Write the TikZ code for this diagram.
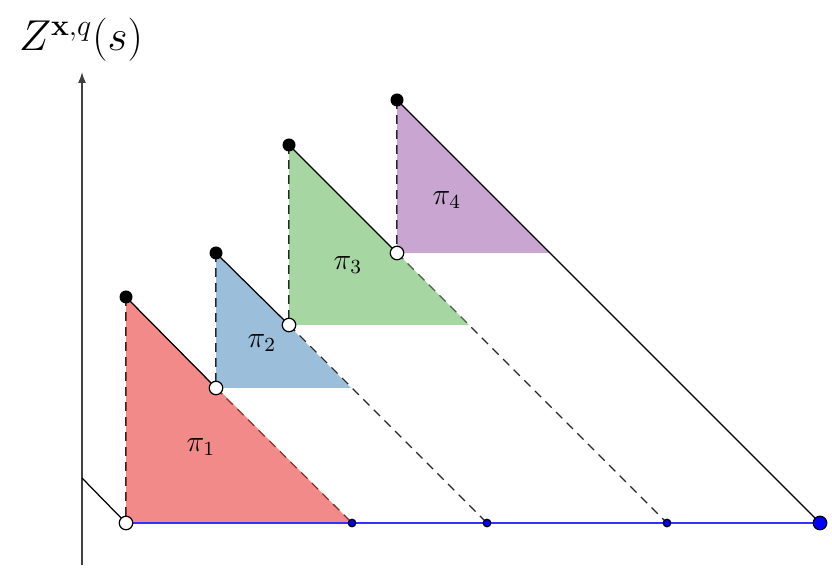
\documentclass[tikz,border=0pt]{standalone}
\usetikzlibrary{arrows.meta}
\definecolor{pione}{RGB}{233,60,60}
\definecolor{pitwo}{RGB}{88,147,195}
\definecolor{pithree}{RGB}{107,188,102}
\definecolor{pifour}{RGB}{165,107,178}
\begin{document}
\begin{tikzpicture}[x=0.4pt,y=0.4pt,line width=0.5pt,
    jumptop/.style={circle,fill=black,inner sep=0pt,minimum size=5.2pt},
    jumpbot/.style={circle,draw=black,fill=white,inner sep=0pt,minimum size=5.4pt},
    hit/.style={circle,draw=black,fill=blue,inner sep=0pt,minimum size=3pt},
    bighit/.style={circle,draw=black,fill=blue,inner sep=0pt,minimum size=5.4pt},
    guide/.style={dash pattern=on 3.5pt off 2.5pt,black!85},
    piece/.style={fill opacity=0.6}]
\useasboundingbox (0,0) rectangle (832,573);
% axis
\coordinate (ax0) at (82,8);
\coordinate (ax1) at (82,501);
\coordinate (in0) at (82,95);
\draw[black!75,line width=0.6pt,-{Latex[length=4.4pt,width=3.2pt]}] (ax0) -- (ax1);
\node (zlab) at (81,533) {\LARGE $Z^{\mathbf{x},q}(s)$};
% path points
\coordinate (s0) at (126,50);
\coordinate (a1) at (126,276);
\coordinate (o1) at (216,185);
\coordinate (b1) at (352,50);
\coordinate (a2) at (216,320);
\coordinate (o2) at (289,248);
\coordinate (b2) at (487,50);
\coordinate (a3) at (289,428);
\coordinate (o3) at (397,320);
\coordinate (b3) at (667,50);
\coordinate (a4) at (397,473);
\coordinate (b4) at (820,50);
% triangle corners
\coordinate (c2) at (351,185);
\coordinate (c3) at (469,248);
\coordinate (c4) at (550,320);
% dashed guides
\draw[guide] (a1) -- (s0);
\draw[guide] (a2) -- (o1);
\draw[guide] (a3) -- (o2);
\draw[guide] (a4) -- (o3);
\draw[guide] (o1) -- (b1);
\draw[guide] (o2) -- (b2);
\draw[guide] (o3) -- (b3);
% pieces
\fill[pione,piece] (a1) -- (s0) -- (b1) -- cycle;
\fill[pitwo,piece] (a2) -- (o1) -- (c2) -- cycle;
\fill[pithree,piece] (a3) -- (o2) -- (c3) -- cycle;
\fill[pifour,piece] (a4) -- (o3) -- (c4) -- cycle;
\node (p1) at (201,126) {\large $\pi_1$};
\node (p2) at (262,230) {\large $\pi_2$};
\node (p3) at (348,308) {\large $\pi_3$};
\node (p4) at (447,373) {\large $\pi_4$};
% solid path
\draw (in0) -- (s0);
\draw (a1) -- (o1);
\draw (a2) -- (o2);
\draw (a3) -- (o3);
\draw (a4) -- (b4);
\draw[blue!80] (s0) -- (b4);
% dots
\node[jumpbot] (n0) at (s0) {};
\node[jumptop] (n1) at (a1) {};
\node[jumpbot] (m1) at (o1) {};
\node[jumptop] (n2) at (a2) {};
\node[jumpbot] (m2) at (o2) {};
\node[jumptop] (n3) at (a3) {};
\node[jumpbot] (m3) at (o3) {};
\node[jumptop] (n4) at (a4) {};
\node[hit] (h1) at (b1) {};
\node[hit] (h2) at (b2) {};
\node[hit] (h3) at (b3) {};
\node[bighit] (h4) at (b4) {};
\end{tikzpicture}
\end{document}
